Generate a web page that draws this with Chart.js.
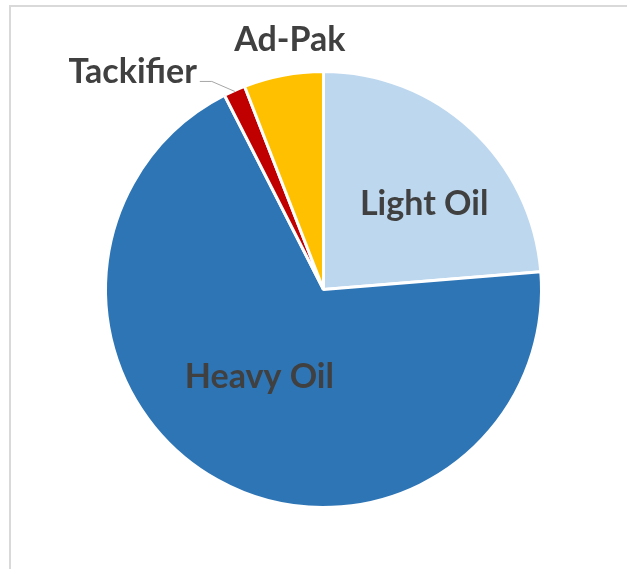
<!DOCTYPE html>
<html>
<head>
<meta charset="utf-8">
<script src="https://cdn.jsdelivr.net/npm/chart.js@4"></script>
<style>
    html, body { margin: 0; padding: 0; background: #fff; overflow: hidden; }
    #wrap { position: relative; width: 627px; height: 569px; }
    #frame {
        position: absolute; left: 9px; top: 5px; width: 700px; height: 700px;
        border-top: 2px solid #d9d9d9; border-left: 2px solid #d9d9d9;
        pointer-events: none;
    }
    canvas { position: absolute; left: 0; top: 0; }
</style>
</head>
<body>
<div id="wrap">
    <canvas id="oilChart" width="627" height="569"></canvas>
    <div id="frame"></div>
</div>
<script>
const categories = ['Light Oil', 'Heavy Oil', 'Tackifier', 'Ad-Pak'];
const shares = [23.7, 68.8, 1.6, 5.9];
const sliceColors = ['#BDD7EE', '#2E75B6', '#C00000', '#FFC000'];

// where each label sits: distance from the centre (in radii) along the slice's mid-angle, plus a nudge
const labelPlacement = [
    { dist: 0.6, dx: 12, dy: 22, align: 'center' },
    { dist: 0.5, dx: -11, dy: 3, align: 'center' },
    { dist: null, dx: 0, dy: 0, align: 'right', leader: true },
    { dist: 1.16, dx: 13, dy: 10, align: 'center' }
];

const pieLabels = {
    id: 'pieLabels',
    afterDatasetsDraw(chart) {
        const ctx = chart.ctx;
        const arcs = chart.getDatasetMeta(0).data;
        ctx.save();
        ctx.font = 'bold 34px Lato';
        ctx.fillStyle = '#404040';
        ctx.textBaseline = 'alphabetic';
        arcs.forEach((arc, i) => {
            const p = arc.getProps(['x', 'y', 'startAngle', 'endAngle', 'outerRadius']);
            const mid = (p.startAngle + p.endAngle) / 2;
            const place = labelPlacement[i];
            if (place.leader) {
                // leader line from the slice edge out to the label
                const ex = p.x + Math.cos(mid) * (p.outerRadius - 1);
                const ey = p.y + Math.sin(mid) * (p.outerRadius - 1);
                const kx = ex - 23, ky = ey - 10;
                ctx.strokeStyle = '#a6a6a6';
                ctx.lineWidth = 1;
                ctx.beginPath();
                ctx.moveTo(ex, ey);
                ctx.lineTo(kx, ky);
                ctx.lineTo(kx - 12, ky);
                ctx.stroke();
                ctx.textAlign = 'right';
                ctx.fillText(categories[i], kx - 15, ky + 2);
                return;
            }
            const r = p.outerRadius * place.dist;
            const x = p.x + Math.cos(mid) * r + place.dx;
            const y = p.y + Math.sin(mid) * r + place.dy;
            ctx.textAlign = place.align;
            ctx.fillText(categories[i], x, y);
        });
        ctx.restore();
    }
};

new Chart(document.getElementById('oilChart'), {
    type: 'pie',
    data: {
        labels: categories,
        datasets: [{
            data: shares,
            backgroundColor: sliceColors,
            borderColor: '#ffffff',
            borderWidth: 3,
            radius: 218
        }]
    },
    options: {
        responsive: false,
        animation: false,
        layout: { padding: { left: 20, top: 10 } },
        plugins: {
            legend: { display: false },
            tooltip: { enabled: false }
        }
    },
    plugins: [pieLabels]
});
</script>
</body>
</html>
